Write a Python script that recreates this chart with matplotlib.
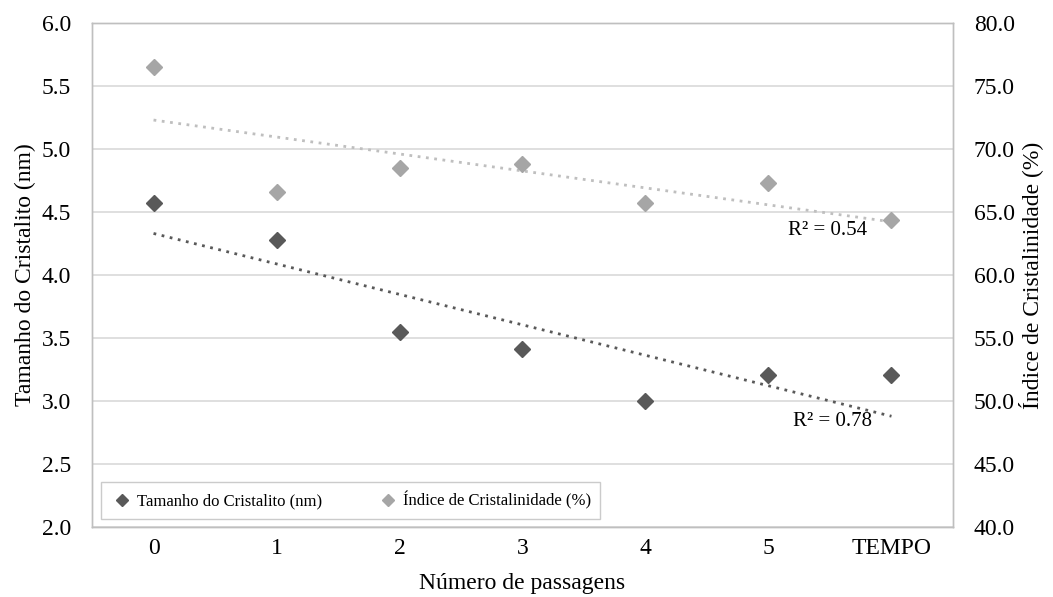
import numpy as np
import matplotlib
matplotlib.use('Agg')
import matplotlib.pyplot as plt
from matplotlib.lines import Line2D

# ---------------------------------------------------------------------------
# Data
# ---------------------------------------------------------------------------
categories = ['0', '1', '2', '3', '4', '5', 'TEMPO']
tamanho = [4.57, 4.28, 3.55, 3.41, 3.00, 3.21, 3.21]        # nm, left axis
indice = [76.5, 66.6, 68.5, 68.8, 65.7, 67.3, 64.4]         # %, right axis
r2_labels = ['R² = 0.78', 'R² = 0.54']

dark = '#595959'
light = '#A6A6A6'
grid_col = '#D9D9D9'
frame_col = '#BFBFBF'

plt.rcParams['font.family'] = ['Liberation Serif', 'DejaVu Serif']

fig = plt.figure(figsize=(10.53, 5.97), dpi=100)
ax = fig.add_axes([0.0874, 0.1173, 0.8176, 0.8442])
ax2 = ax.twinx()

x = np.arange(len(categories))

# Trend lines (linear fit in the category index)
k1, b1 = np.polyfit(x, tamanho, 1)
k2, b2 = np.polyfit(x, indice, 1)
ax.plot(x[[0, -1]], k1 * x[[0, -1]] + b1, linestyle=(0, (1, 2)),
        color=dark, linewidth=2, zorder=2)
ax2.plot(x[[0, -1]], k2 * x[[0, -1]] + b2, linestyle=(0, (1, 2)),
         color='#BFBFBF', linewidth=2, zorder=2)

ax.plot(x, tamanho, linestyle='none', marker='D', markersize=8.5,
        color=dark, zorder=3)
ax2.plot(x, indice, linestyle='none', marker='D', markersize=8.5,
         color=light, zorder=3)

ax.text(5.52, 2.84, r2_labels[0], fontsize=15, ha='center', va='center')
ax.text(5.48, 4.35, r2_labels[1], fontsize=15, ha='center', va='center')

# Axes formatting
ax.set_xlim(-0.5, len(categories) - 0.5)
ax.set_xticks(x)
ax.set_xticklabels(categories, fontsize=17)
ax.set_ylim(2.0, 6.0)
ax.set_yticks(np.arange(2.0, 6.01, 0.5))
ax.set_yticklabels([f'{v:.1f}' for v in np.arange(2.0, 6.01, 0.5)], fontsize=17)
ax2.set_ylim(40, 80)
ax2.set_yticks(np.arange(40, 80.1, 5))
ax2.set_yticklabels([f'{v:.1f}' for v in np.arange(40, 80.1, 5)], fontsize=17)

ax.grid(axis='y', color=grid_col, linewidth=1.2, zorder=0)
ax.set_axisbelow(True)
for a in (ax, ax2):
    a.tick_params(axis='y', length=0, pad=15)
    a.tick_params(axis='x', length=0, pad=8)
    for s in a.spines.values():
        s.set_color(frame_col)
        s.set_linewidth(1.0)

ax.set_xlabel('Número de passagens', fontsize=17, labelpad=10)
ax.set_ylabel('Tamanho do Cristalito (nm)', fontsize=17, labelpad=4)
ax2.set_ylabel('Índice de Cristalinidade (%)', fontsize=17, labelpad=2)

handles = [
    Line2D([], [], linestyle='none', marker='D', markersize=6.5, color=dark,
           label='Tamanho do Cristalito (nm)'),
    Line2D([], [], linestyle='none', marker='D', markersize=6.5, color=light,
           label='Índice de Cristalinidade (%)'),
]
leg = ax.legend(handles=handles, loc='lower left', ncol=2, fontsize=12,
                frameon=True, fancybox=False, edgecolor=frame_col,
                bbox_to_anchor=(0.0105, 0.016), borderaxespad=0,
                handlelength=1.4, handletextpad=0.2, columnspacing=3.25,
                borderpad=0.55)
leg.get_frame().set_linewidth(1.0)
leg.set_zorder(5)

fig.savefig('out.png', dpi=100, facecolor='white')
plt.close(fig)
